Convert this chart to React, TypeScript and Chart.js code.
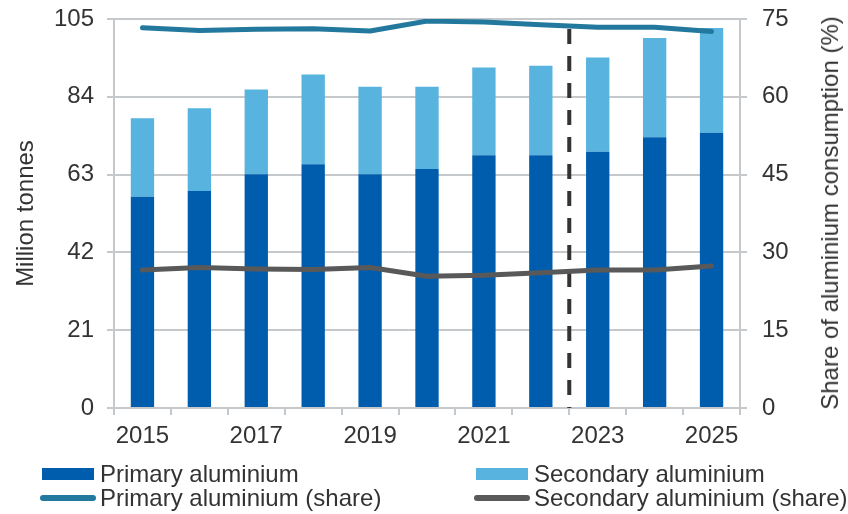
import React, { useEffect, useRef } from "react";
import { Chart, registerables } from "chart.js";

Chart.register(...registerables);

const years = ["2015", "2016", "2017", "2018", "2019", "2020", "2021", "2022", "2023", "2024", "2025"];
const primaryTonnes = [57.0, 58.6, 63.1, 65.8, 63.1, 64.5, 68.2, 68.2, 69.2, 73.1, 74.3];
const secondaryTonnes = [21.2, 22.3, 22.9, 24.2, 23.6, 22.2, 23.7, 24.2, 25.4, 26.8, 28.3];
const primaryShare = [73.3, 72.8, 73.0, 73.1, 72.7, 74.6, 74.4, 73.9, 73.4, 73.4, 72.6];
const secondaryShare = [26.6, 27.1, 26.8, 26.7, 27.1, 25.4, 25.6, 26.1, 26.6, 26.6, 27.4];
const forecastStartIndex = 8; // dashed divider between 2022 and 2023

const FONT = "'Liberation Sans', Arial, sans-serif";
const TEXT = "#333333";
const GRID = "#c6c9cc";
const C_PRIMARY = "#005dae";
const C_SECONDARY = "#58b3df";
const C_PSHARE = "#22799d";
const C_SSHARE = "#595959";

const dividerPlugin = {
  id: "divider",
  beforeDatasetsDraw(chart: any) {
    const x = chart.scales.x;
    const area = chart.chartArea;
    const px = (x.getPixelForValue(forecastStartIndex - 1) + x.getPixelForValue(forecastStartIndex)) / 2;
    const ctx = chart.ctx;
    ctx.save();
    ctx.strokeStyle = "#333333";
    ctx.lineWidth = 4;
    ctx.setLineDash([15, 12]);
    ctx.beginPath();
    ctx.moveTo(px, area.top + 10);
    ctx.lineTo(px, area.bottom);
    ctx.stroke();
    ctx.restore();
  },
};

export default function App() {
  const ref = useRef<HTMLCanvasElement>(null);
  useEffect(() => {
    if (!ref.current) return;
    const chart = new Chart(ref.current, {
      type: "bar",
      data: {
        labels: years,
        datasets: [
          {
            type: "line",
            label: "Primary aluminium (share)",
            data: primaryShare,
            yAxisID: "y1",
            borderColor: C_PSHARE,
            backgroundColor: C_PSHARE,
            borderWidth: 5,
            pointRadius: 0,
            borderCapStyle: "round",
            borderJoinStyle: "round",
            order: 0,
          } as any,
          {
            type: "line",
            label: "Secondary aluminium (share)",
            data: secondaryShare,
            yAxisID: "y1",
            borderColor: C_SSHARE,
            backgroundColor: C_SSHARE,
            borderWidth: 5,
            pointRadius: 0,
            borderCapStyle: "round",
            borderJoinStyle: "round",
            order: 0,
          } as any,
          {
            type: "bar",
            label: "Primary aluminium",
            data: primaryTonnes,
            yAxisID: "y",
            stack: "s",
            backgroundColor: C_PRIMARY,
            barPercentage: 0.41,
            categoryPercentage: 1,
            order: 1,
          },
          {
            type: "bar",
            label: "Secondary aluminium",
            data: secondaryTonnes,
            yAxisID: "y",
            stack: "s",
            backgroundColor: C_SECONDARY,
            barPercentage: 0.41,
            categoryPercentage: 1,
            order: 1,
          },
        ],
      },
      options: {
        animation: false,
        responsive: false,
        maintainAspectRatio: false,
        layout: { padding: { top: 19, left: 0, right: 0, bottom: 0 } },
        plugins: { legend: { display: false }, tooltip: { enabled: false } },
        scales: {
          x: {
            stacked: true,
            grid: { offset: true, drawOnChartArea: false, drawTicks: true, tickLength: 7, color: GRID, lineWidth: 2 },
            border: { color: GRID, width: 2 },
            ticks: {
              autoSkip: false,
              maxRotation: 0,
              padding: 7,
              color: TEXT,
              font: { family: FONT, size: 24 },
              callback: (_v: any, i: number) => (i % 2 === 0 ? years[i] : ""),
            },
            afterFit: (s: any) => {
              s.height = 106;
              s.paddingLeft = 0;
              s.paddingRight = 0;
            },
          },
          y: {
            position: "left",
            stacked: true,
            min: 0,
            max: 105,
            ticks: { stepSize: 21, padding: 13, color: TEXT, font: { family: FONT, size: 24 } },
            grid: { color: GRID, lineWidth: 2, tickLength: 7 },
            border: { color: GRID, width: 2 },
            title: {
              display: true,
              text: "Million tonnes",
              color: TEXT,
              font: { family: FONT, size: 24 },
              padding: { top: 12, bottom: 0 },
            },
            afterFit: (s: any) => {
              s.width = 114;
              s.paddingTop = 0;
              s.paddingBottom = 0;
            },
          },
          y1: {
            position: "right",
            min: 0,
            max: 75,
            ticks: { stepSize: 15, padding: 15, color: TEXT, font: { family: FONT, size: 24 } },
            grid: { drawOnChartArea: false, color: GRID, lineWidth: 2, tickLength: 7 },
            border: { color: GRID, width: 2 },
            afterFit: (s: any) => {
              s.width = 108;
              s.paddingTop = 0;
              s.paddingBottom = 0;
            },
          },
        },
      },
      plugins: [dividerPlugin],
    });
    return () => chart.destroy();
  }, []);

  const textStyle: React.CSSProperties = {
    position: "absolute",
    font: `24px ${FONT}`,
    color: TEXT,
    lineHeight: "24px",
    height: 24,
    whiteSpace: "nowrap",
  };
  const box = (left: number, top: number, color: string) => (
    <div style={{ position: "absolute", left, top, width: 52, height: 12, background: color }} />
  );
  const line = (left: number, top: number, color: string) => (
    <div style={{ position: "absolute", left, top, width: 56, height: 6, borderRadius: 3, background: color }} />
  );

  return (
    <div style={{ position: "fixed", left: 0, top: 0, width: 848, height: 514, background: "#fff" }}>
      <canvas ref={ref} width={848} height={514} style={{ position: "absolute", left: 0, top: 0, width: 848, height: 514 }} />
      <div
        style={{
          ...textStyle,
          left: 830,
          top: 213,
          height: "auto",
          transform: "translate(-50%, -50%) rotate(-90deg)",
        }}
      >
        Share of aluminium consumption (%)
      </div>
      {box(42, 468, C_PRIMARY)}
      <div style={{ ...textStyle, left: 100, top: 462 }}>Primary aluminium</div>
      {line(40, 495, C_PSHARE)}
      <div style={{ ...textStyle, left: 100, top: 486 }}>Primary aluminium (share)</div>
      {box(476, 468, C_SECONDARY)}
      <div style={{ ...textStyle, left: 534, top: 462 }}>Secondary aluminium</div>
      {line(474, 495, C_SSHARE)}
      <div style={{ ...textStyle, left: 534, top: 486 }}>Secondary aluminium (share)</div>
    </div>
  );
}
